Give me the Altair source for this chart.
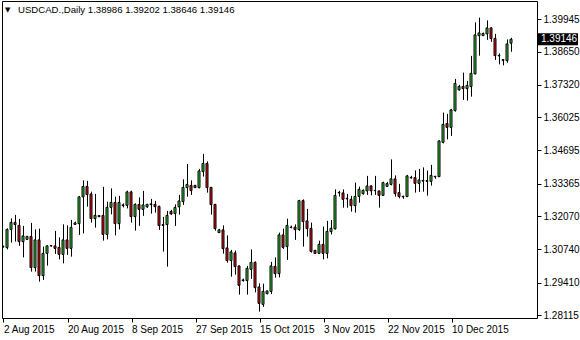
import json
import altair as alt
import pandas as pd

# Daily USDCAD candles, 2 Aug 2015 .. mid Dec 2015 (one bar per trading day, Sun-Fri)
open_ = [1.3084,1.3081,1.3154,1.3182,1.3170,1.3105,1.3114,1.3126,1.3001,1.3112,
         1.2969,1.3058,1.3088,1.3088,1.3082,1.3054,1.3112,1.3078,1.3174,1.3177,
         1.3284,1.3326,1.3296,1.3197,1.3205,1.3210,1.3134,1.3242,1.3262,1.3177,
         1.3249,1.3250,1.3304,1.3205,1.3254,1.3234,1.3244,1.3253,1.3254,1.3246,
         1.3173,1.3173,1.3226,1.3217,1.3244,1.3265,1.3321,1.3330,1.3330,1.3321,
         1.3385,1.3418,1.3322,1.3254,1.3141,1.3152,1.3080,1.3029,1.3060,1.3008,
         1.2952,1.2949,1.2994,1.3022,1.2924,1.2854,1.2897,1.2906,1.3006,1.2977,
         1.3132,1.3085,1.3162,1.3163,1.3153,1.3269,1.3188,1.3158,1.3070,1.3058,
         1.3094,1.3058,1.3145,1.3156,1.3300,1.3300,1.3276,1.3274,1.3249,1.3286,
         1.3297,1.3308,1.3328,1.3309,1.3308,1.3290,1.3326,1.3334,1.3356,1.3301,
         1.3284,1.3285,1.3360,1.3361,1.3338,1.3347,1.3346,1.3346,1.3364,1.3365,
         1.3502,1.3578,1.3562,1.3629,1.3712,1.3726,1.3717,1.3725,1.3776,1.3929,
         1.3929,1.3936,1.3960,1.3918,1.3848,1.3830,1.3829,1.38986]
high = [1.3089,1.3158,1.3198,1.3212,1.3196,1.3168,1.3128,1.3180,1.3154,1.3157,
        1.3085,1.3090,1.3090,1.3148,1.3122,1.3174,1.3170,1.3192,1.3185,1.3288,
        1.3350,1.3348,1.3305,1.3296,1.3210,1.3324,1.3265,1.3318,1.3285,1.3288,
        1.3258,1.3309,1.3309,1.3258,1.3282,1.3308,1.3256,1.3276,1.3268,1.3249,
        1.3204,1.3228,1.3232,1.3254,1.3292,1.3354,1.3416,1.3350,1.3332,1.3396,
        1.3456,1.3426,1.3324,1.3256,1.3156,1.3170,1.3130,1.3072,1.3069,1.3009,
        1.2957,1.3008,1.3074,1.3026,1.2938,1.2937,1.2909,1.3024,1.3042,1.3141,
        1.3157,1.3197,1.3169,1.3174,1.3272,1.3274,1.3236,1.3181,1.3072,1.3109,
        1.3165,1.3188,1.3192,1.3314,1.3308,1.3314,1.3296,1.3288,1.3341,1.3325,
        1.3314,1.3368,1.3330,1.3368,1.3308,1.3345,1.3344,1.3434,1.3370,1.3336,
        1.3289,1.3372,1.3368,1.3390,1.3396,1.3402,1.3389,1.3412,1.3368,1.3509,
        1.3621,1.3616,1.3636,1.3756,1.3732,1.3781,1.3748,1.3848,1.3982,1.4001,
        1.3941,1.3990,1.3962,1.3936,1.3858,1.3835,1.3914,1.39202]
low = [1.3081,1.3074,1.3101,1.3105,1.3088,1.3042,1.3113,1.2985,1.2985,1.2945,
       1.2952,1.3009,1.3085,1.3056,1.3034,1.3018,1.3052,1.3045,1.3173,1.3132,
       1.3138,1.3245,1.3181,1.3161,1.3203,1.3109,1.3114,1.3214,1.3130,1.3154,
       1.3242,1.3238,1.3181,1.3149,1.3168,1.3208,1.3240,1.3217,1.3221,1.3152,
       1.3065,1.3005,1.3212,1.3168,1.3213,1.3252,1.3285,1.3292,1.3320,1.3318,
       1.3365,1.3301,1.3213,1.3149,1.3140,1.3057,1.3021,1.2965,1.2973,1.2893,
       1.2945,1.2893,1.2956,1.2902,1.2825,1.2844,1.2894,1.2895,1.2961,1.2962,
       1.3076,1.3032,1.3158,1.3112,1.3148,1.3085,1.3125,1.3061,1.3057,1.3057,
       1.3034,1.3038,1.3134,1.3154,1.3285,1.3241,1.3241,1.3225,1.3221,1.3261,
       1.3293,1.3292,1.3290,1.3292,1.3241,1.3288,1.3325,1.3330,1.3285,1.3278,
       1.3276,1.3284,1.3357,1.3301,1.3304,1.3305,1.3289,1.3329,1.3356,1.3364,
       1.3498,1.3514,1.3528,1.3625,1.3709,1.3672,1.3669,1.3685,1.3774,1.3849,
       1.3928,1.3912,1.3904,1.3832,1.3814,1.3810,1.3821,1.38646]
close = [1.3086,1.3154,1.3182,1.3173,1.3105,1.3128,1.3126,1.3001,1.3112,1.2969,
         1.3058,1.3088,1.3089,1.3078,1.3054,1.3112,1.3078,1.3162,1.3180,1.3284,
         1.3326,1.3293,1.3197,1.3210,1.3209,1.3134,1.3242,1.3262,1.3177,1.3262,
         1.3252,1.3304,1.3205,1.3254,1.3234,1.3252,1.3254,1.3256,1.3245,1.3169,
         1.3170,1.3210,1.3216,1.3242,1.3268,1.3322,1.3334,1.3309,1.3321,1.3388,
         1.3418,1.3321,1.3253,1.3157,1.3152,1.3077,1.3029,1.3064,1.3005,1.2930,
         1.2949,1.2998,1.3022,1.2921,1.2858,1.2906,1.2908,1.3008,1.2977,1.3132,
         1.3082,1.3170,1.3163,1.3153,1.3269,1.3185,1.3157,1.3066,1.3058,1.3094,
         1.3058,1.3146,1.3158,1.3290,1.3302,1.3274,1.3278,1.3249,1.3286,1.3314,
         1.3310,1.3328,1.3308,1.3310,1.3290,1.3341,1.3337,1.3356,1.3297,1.3285,
         1.3286,1.3368,1.3362,1.3338,1.3352,1.3350,1.3349,1.3370,1.3366,1.3508,
         1.3574,1.3562,1.3632,1.3738,1.3726,1.3717,1.3730,1.3778,1.3932,1.3940,
         1.3938,1.3960,1.3917,1.3849,1.3850,1.3833,1.3896,1.39146]

date_labels = ["2 Aug 2015", "20 Aug 2015", "8 Sep 2015", "27 Sep 2015",
               "15 Oct 2015", "3 Nov 2015", "22 Nov 2015", "10 Dec 2015"]
label_bars = [0, 16, 32, 48, 64, 80, 96, 112]
price_ticks = [1.39945, 1.38650, 1.37320, 1.36025, 1.34695,
               1.33365, 1.32070, 1.30740, 1.29410, 1.28115]
symbol = "USDCAD.,Daily"

df = pd.DataFrame({"i": list(range(len(close))), "open": open_, "high": high,
                   "low": low, "close": close})
df["dir"] = ["up" if c >= o else "down" for o, c in zip(open_, close)]

FONT = "Liberation Sans"
W, H = 535, 317

xscale = alt.Scale(domain=[-0.375, -0.375 + W / 4], nice=False, zero=False, padding=0)
yscale = alt.Scale(domain=[1.27995, 1.40675], nice=False, zero=False, padding=0)

label_expr = json.dumps(date_labels) + "[round(datum.value/16)]"

xaxis = alt.Axis(values=label_bars, labelExpr=label_expr, title="",
                 orient="bottom", grid=False, domain=False,
                 tickSize=4, tickColor="black", labelAlign="left",
                 labelPadding=2, labelFlush=False, labelOverlap=False,
                 labelBound=False, labelBaseline="top",
                 labelFont=FONT, labelFontSize=10, labelColor="black")
yaxis = alt.Axis(values=price_ticks, format=".5f", orient="right",
                 title="", grid=False, domain=False, tickSize=4,
                 tickColor="black", labelPadding=2,
                 labelFont=FONT, labelFontSize=10, labelColor="black",
                 labelOverlap=False, labelBound=False, labelFlush=False)

base = alt.Chart(df)

wicks = base.mark_rule(color="black", strokeWidth=1, clip=True).encode(
    x=alt.X("i:Q", scale=xscale, axis=xaxis),
    y=alt.Y("low:Q", scale=yscale, axis=yaxis),
    y2="high:Q",
)

bodies = base.mark_bar(size=2, stroke="black", strokeWidth=1, clip=True,
                       xOffset=-0.5).encode(
    x=alt.X("i:Q", scale=xscale, axis=xaxis),
    y=alt.Y("open:Q", scale=yscale, axis=yaxis),
    y2="close:Q",
    color=alt.Color("dir:N", scale=alt.Scale(domain=["up", "down"],
                                             range=["#32c832", "#dc1414"]),
                    legend=None),
)

last = df.tail(1)
price_box = alt.Chart(last).mark_rule(color="black", strokeWidth=12, strokeCap="butt").encode(
    x=alt.value(536), x2=alt.value(576),
    y=alt.Y("close:Q", scale=yscale, axis=yaxis),
)
price_text = alt.Chart(last).mark_text(color="white", font=FONT, fontSize=10,
                                       align="left", baseline="middle").encode(
    x=alt.value(539),
    y=alt.Y("close:Q", scale=yscale, axis=yaxis),
    text=alt.Text("close:Q", format=".5f"),
)

lo, hi, lw, lc = open_[-1], high[-1], low[-1], close[-1]
header = f"{symbol}  {lo:.5f} {hi:.5f} {lw:.5f} {lc:.5f}"
head_df = pd.DataFrame({"t": [header]})
header_text = alt.Chart(head_df).mark_text(font=FONT, fontSize=9.6, color="black",
                                           align="left", baseline="middle").encode(
    x=alt.value(16), y=alt.value(9), text="t:N")
tri = alt.Chart(pd.DataFrame({"t": ["\u25bc"]})).mark_text(
    font="DejaVu Sans", fontSize=7, color="black", align="left",
    baseline="middle").encode(x=alt.value(3), y=alt.value(9), text="t:N")

chart = alt.layer(wicks, bodies, price_box, price_text, header_text, tri).properties(
    width=W, height=H,
    autosize=alt.AutoSizeParams(type="none"),
    padding={"left": 2, "top": 1, "right": 43, "bottom": 22},
    background="white",
).configure_view(stroke="black", strokeWidth=1)

chart.save("out.html", embed_options={"renderer": "svg", "actions": False})
